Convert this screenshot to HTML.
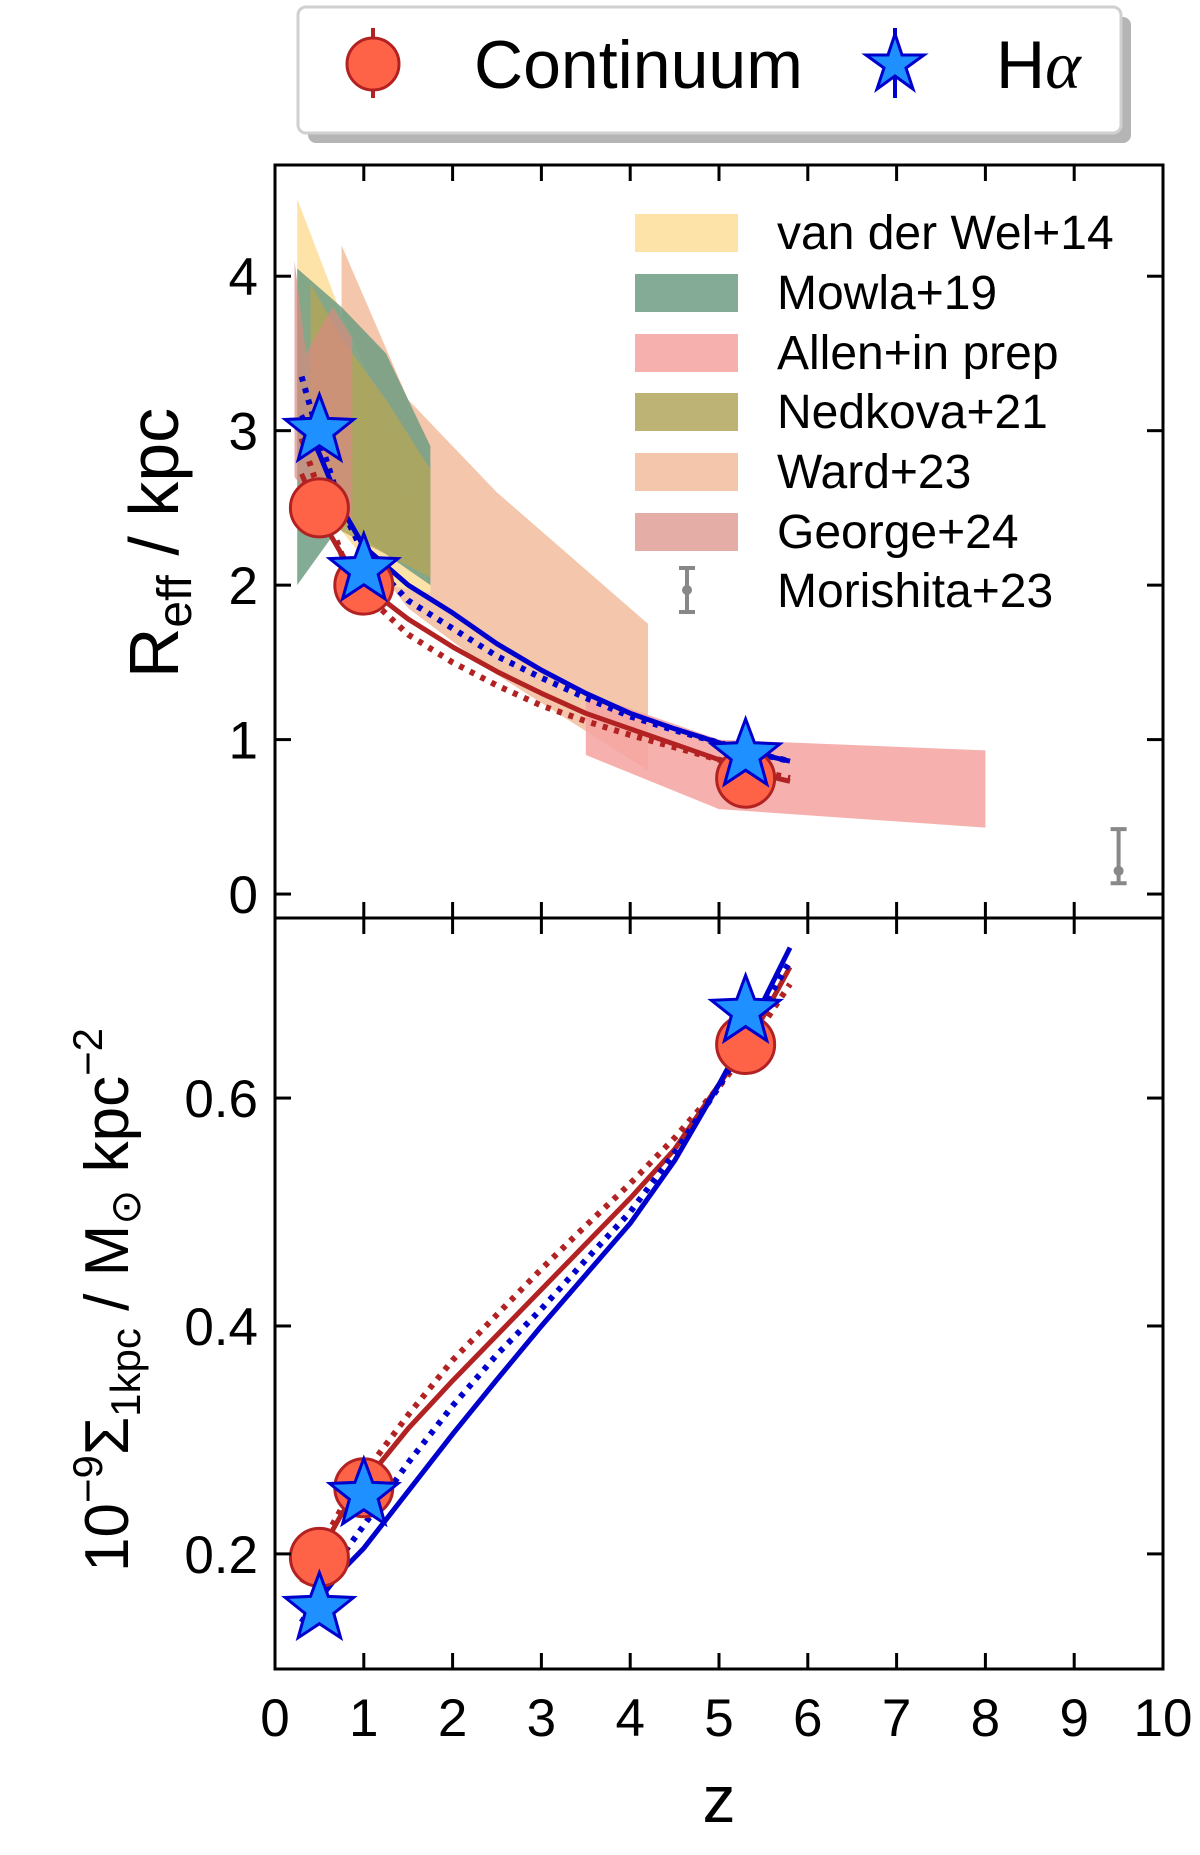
<!DOCTYPE html>
<html><head><meta charset="utf-8"><style>
html,body{margin:0;padding:0;background:#fff;}
svg{display:block;font-family:"Liberation Sans Narrow","Liberation Sans",sans-serif;}
</style></head><body>
<svg id="chart" width="1200" height="1855" viewBox="0 0 1200 1855" xmlns="http://www.w3.org/2000/svg">
<g id="layer"></g>
</svg>
<script>
// ---- data ----
const zTicks=[0,1,2,3,4,5,6,7,8,9,10];
const rTicks=[0,1,2,3,4];
const sTicks=[0.2,0.4,0.6];
const pointZ=[0.5,1.0,5.3];
const contR=[2.5,2.0,0.75];
const haR=[3.0,2.1,0.9];
const contS=[0.197,0.258,0.647];
const haS=[0.152,0.252,0.676];
const curveZ=[0.3,0.5,0.75,1,1.5,2,2.5,3,3.5,4,4.5,5,5.3,5.5,5.8];
const redSolidR=[2.72,2.45,2.2,2.0,1.78,1.6,1.44,1.3,1.17,1.07,0.97,0.87,0.8,0.77,0.73];
const redDotR=[2.95,2.6,2.2,1.95,1.68,1.5,1.35,1.22,1.12,1.03,0.95,0.87,0.82,0.79,0.75];
const blueSolidR=[3.1,2.85,2.5,2.25,2.0,1.82,1.62,1.45,1.3,1.17,1.07,0.98,0.93,0.9,0.86];
const blueDotR=[3.35,2.95,2.5,2.2,1.9,1.72,1.54,1.4,1.27,1.15,1.06,0.98,0.93,0.9,0.86];
const redSolidS=[0.175,0.2,0.235,0.262,0.31,0.352,0.392,0.432,0.472,0.512,0.555,0.612,0.645,0.672,0.715];
const redDotS=[0.18,0.205,0.24,0.27,0.322,0.37,0.41,0.45,0.488,0.525,0.565,0.61,0.64,0.665,0.70];
const blueSolidS=[0.133,0.16,0.185,0.205,0.255,0.305,0.353,0.40,0.445,0.49,0.545,0.612,0.655,0.685,0.732];
const blueDotS=[0.14,0.165,0.198,0.225,0.28,0.33,0.375,0.415,0.458,0.50,0.552,0.61,0.65,0.68,0.72];
const bandNames=["van der Wel+14","Mowla+19","Allen+in prep","Nedkova+21","Ward+23","George+24"];
const bandColors=["#fde3a7","#6f9c82","#f5a3a0","#b0a65c","#f2bc9c","#d98a80"];
const bandOpacity=[1,0.85,0.85,0.85,0.85,0.7];
const bandOrder=[4,0,2,1,3,5];
const bandZ=[[0.25,0.75,1.25,1.75],[0.25,0.75,1.25,1.75],[3.5,5,8],[0.4,0.75,1.25,1.75],[0.75,1.5,2.5,4.2],[0.22,0.35,0.65,0.87]];
const bandHi=[[4.5,3.75,3.1,2.0],[4.05,3.8,3.5,2.9],[1.3,1.0,0.93],[3.95,3.6,3.2,2.75],[4.2,3.2,2.6,1.75],[4.1,3.5,3.8,3.6]];
const bandLo=[[3.0,2.35,2.0,1.95],[2.0,2.4,2.2,2.0],[0.9,0.55,0.43],[2.6,2.35,2.2,2.05],[2.4,1.85,1.42,0.8],[2.7,2.6,2.5,2.4]];
const morZ=[9.5];
const morR=[0.15];
const morLo=[0.07];
const morHi=[0.42];

// ---- axes ----
const X0=275,X1=1163,TOP=165,MID=918,BOT=1669;
const xS=z=>X0+(z-0)/(10-0)*(X1-X0);
const yR=r=>MID-(r-(-0.155))/(4.72-(-0.155))*(MID-TOP);
const yS=s=>BOT-(s-0.099)/(0.758-0.099)*(BOT-MID);
const NS="http://www.w3.org/2000/svg";
const layer=document.getElementById('layer');
function mk(tag,attrs,parent){const e=document.createElementNS(NS,tag);for(const k in attrs)e.setAttribute(k,attrs[k]);(parent||layer).appendChild(e);return e;}
const clipDefs=mk('defs',{});
const c1=mk('clipPath',{id:'cTop'},clipDefs);mk('rect',{x:X0,y:TOP,width:X1-X0,height:MID-TOP},c1);
const c2=mk('clipPath',{id:'cBot'},clipDefs);mk('rect',{x:X0,y:MID,width:X1-X0,height:BOT-MID},c2);
const gTop=mk('g',{'clip-path':'url(#cTop)'});
const gBot=mk('g',{'clip-path':'url(#cBot)'});

// bands
bandOrder.forEach(i=>{
  const n=bandNames[i];
  let pts=bandZ[i].map((z,j)=>xS(z)+','+yR(bandHi[i][j]));
  pts=pts.concat(bandZ[i].map((z,j)=>xS(z)+','+yR(bandLo[i][j])).reverse());
  const p=mk('polygon',{points:pts.join(' '),fill:bandColors[i],'fill-opacity':bandOpacity[i]},gTop);
  
  
});
function line(arrY,yf,color,dotted,g,name){
  const d=curveZ.map((z,i)=>(i?'L':'M')+xS(z).toFixed(1)+','+yf(arrY[i]).toFixed(1)).join(' ');
  const a={d:d,fill:'none',stroke:color,'stroke-width':dotted?6:5,'stroke-linejoin':'round'};
  if(dotted)a['stroke-dasharray']='5 7';
  const p=mk('path',a,g);
  
  
}
line(redDotR,yR,'#b22222',true,gTop,'continuum-dotted-fit');
line(redSolidR,yR,'#b22222',false,gTop,'continuum-fit');
line(blueDotR,yR,'#0000cd',true,gTop,'halpha-dotted-fit');
line(blueSolidR,yR,'#0000cd',false,gTop,'halpha-fit');
line(redDotS,yS,'#b22222',true,gBot,'continuum-dotted-sigma-fit');
line(redSolidS,yS,'#b22222',false,gBot,'continuum-sigma-fit');
line(blueDotS,yS,'#0000cd',true,gBot,'halpha-dotted-sigma-fit');
line(blueSolidS,yS,'#0000cd',false,gBot,'halpha-sigma-fit');

// morishita
morZ.forEach((z,i)=>{
  const g=mk('g',{stroke:'#888','stroke-width':4,fill:'#888'});
  
  
  const x=xS(z);
  mk('line',{x1:x,x2:x,y1:yR(morLo[i]),y2:yR(morHi[i])},g);
  mk('line',{x1:x-8,x2:x+8,y1:yR(morLo[i]),y2:yR(morLo[i])},g);
  mk('line',{x1:x-8,x2:x+8,y1:yR(morHi[i]),y2:yR(morHi[i])},g);
  mk('circle',{cx:x,cy:yR(morR[i]),r:5,stroke:'none'},g);
});

function starPath(cx,cy,R){let s='';for(let k=0;k<10;k++){const r=k%2?R*0.42:R;const a=-Math.PI/2+k*Math.PI/5;s+=(k?'L':'M')+(cx+r*Math.cos(a)).toFixed(1)+','+(cy+r*Math.sin(a)).toFixed(1);}return s+'Z';}
function circ(x,y,name,g){const c=mk('circle',{cx:x,cy:y,r:29,fill:'#ff6347',stroke:'#b22222','stroke-width':3},g);}
function star(x,y,name,g){const s=mk('path',{d:starPath(x,y,36),fill:'#1e90ff',stroke:'#0000cd','stroke-width':3,'stroke-linejoin':'miter'},g);}
pointZ.forEach((z,i)=>{circ(xS(z),yR(contR[i]),'continuum-point',layer);});
pointZ.forEach((z,i)=>{star(xS(z),yR(haR[i]),'halpha-point',layer);});
pointZ.forEach((z,i)=>{circ(xS(z),yS(contS[i]),'continuum-sigma-point',layer);});
pointZ.forEach((z,i)=>{star(xS(z),yS(haS[i]),'halpha-sigma-point',layer);});

// frames & ticks
const fr=mk('g',{stroke:'#000','stroke-width':3,fill:'none'});


mk('rect',{x:X0,y:TOP,width:X1-X0,height:BOT-TOP},fr);
mk('line',{x1:X0,x2:X1,y1:MID,y2:MID},fr);
zTicks.forEach(z=>{const x=xS(z);
  [[TOP,1],[MID,-1],[MID,1],[BOT,-1]].forEach(([y,d])=>mk('line',{x1:x,x2:x,y1:y,y2:y+d*16},fr));
  const t=mk('text',{x:x,y:1736,'text-anchor':'middle','font-size':53,fill:'#000'});t.textContent=z;
  
});
rTicks.forEach(r=>{const y=yR(r);
  mk('line',{x1:X0,x2:X0+16,y1:y,y2:y},fr);mk('line',{x1:X1,x2:X1-16,y1:y,y2:y},fr);
  const t=mk('text',{x:258,y:y+19,'text-anchor':'end','font-size':53,fill:'#000'});t.textContent=r;
  
});
sTicks.forEach(s=>{const y=yS(s);
  mk('line',{x1:X0,x2:X0+16,y1:y,y2:y},fr);mk('line',{x1:X1,x2:X1-16,y1:y,y2:y},fr);
  const t=mk('text',{x:258,y:y+19,'text-anchor':'end','font-size':53,fill:'#000'});t.textContent=s.toFixed(1);
  
});

// inner legend
const lg=mk('g',{});


const legY=[233,293,353,412,472,532];
bandNames.forEach((n,i)=>{
  const r=mk('rect',{x:635,y:legY[i]-19,width:103,height:38,fill:bandColors[i],'fill-opacity':bandOpacity[i]},lg);
  
  const t=mk('text',{x:777,y:legY[i]+16,'font-size':48,fill:'#000'},lg);t.textContent=n;
  
});
const mg=mk('g',{stroke:'#888','stroke-width':4,fill:'#888'},lg);
mk('line',{x1:687,x2:687,y1:568,y2:612},mg);mk('line',{x1:679,x2:695,y1:568,y2:568},mg);mk('line',{x1:679,x2:695,y1:612,y2:612},mg);mk('circle',{cx:687,cy:590,r:5,stroke:'none'},mg);
const mt=mk('text',{x:777,y:607,'font-size':48,fill:'#000'},lg);mt.textContent='Morishita+23';

</script>

<svg style="position:absolute;left:0;top:0" width="1200" height="1855" viewBox="0 0 1200 1855" xmlns="http://www.w3.org/2000/svg">
<g>
<rect x="308" y="17" width="823" height="126" rx="8" fill="#b5b5b5"/>
<rect x="298" y="7" width="823" height="126" rx="8" fill="#fff" stroke="#d0d0d0" stroke-width="3"/>
<line x1="373" y1="28" x2="373" y2="98" stroke="#b22222" stroke-width="4"/>
<circle cx="373" cy="64" r="26" fill="#ff6347" stroke="#b22222" stroke-width="3"/>
<text x="474" y="88" font-size="68" font-family="Liberation Sans Narrow, Liberation Sans, sans-serif">Continuum</text>
<line x1="895" y1="28" x2="895" y2="98" stroke="#0000cd" stroke-width="4"/>
<path d="M895,34 L902,55 L924,55 L906,68 L913,89 L895,76 L877,89 L884,68 L866,55 L888,55 Z" fill="#1e90ff" stroke="#0000cd" stroke-width="3"/>
<text x="996" y="88" font-size="68" font-family="Liberation Sans Narrow, Liberation Sans, sans-serif">H<tspan font-style="italic" font-family="Liberation Serif, serif">α</tspan></text>
</g>
<text transform="translate(178,543) rotate(-90)" text-anchor="middle" font-size="70" font-family="Liberation Sans Narrow, Liberation Sans, sans-serif">R<tspan font-size="48" dy="13">eff</tspan><tspan dy="-13"> / kpc</tspan></text>
<text transform="translate(128,1300) rotate(-90)" text-anchor="middle" font-size="62" font-family="Liberation Sans Narrow, Liberation Sans, sans-serif">10<tspan font-size="42" dy="-26">−9</tspan><tspan dy="26">Σ</tspan><tspan font-size="42" dy="12">1kpc</tspan><tspan dy="-12"> / M</tspan><tspan font-size="42" dy="12">⊙</tspan><tspan dy="-12"> kpc</tspan><tspan font-size="42" dy="-26">−2</tspan></text>
<text x="719" y="1822" text-anchor="middle" font-size="66" font-family="Liberation Sans Narrow, Liberation Sans, sans-serif">z</text>
</svg>
</body></html>
